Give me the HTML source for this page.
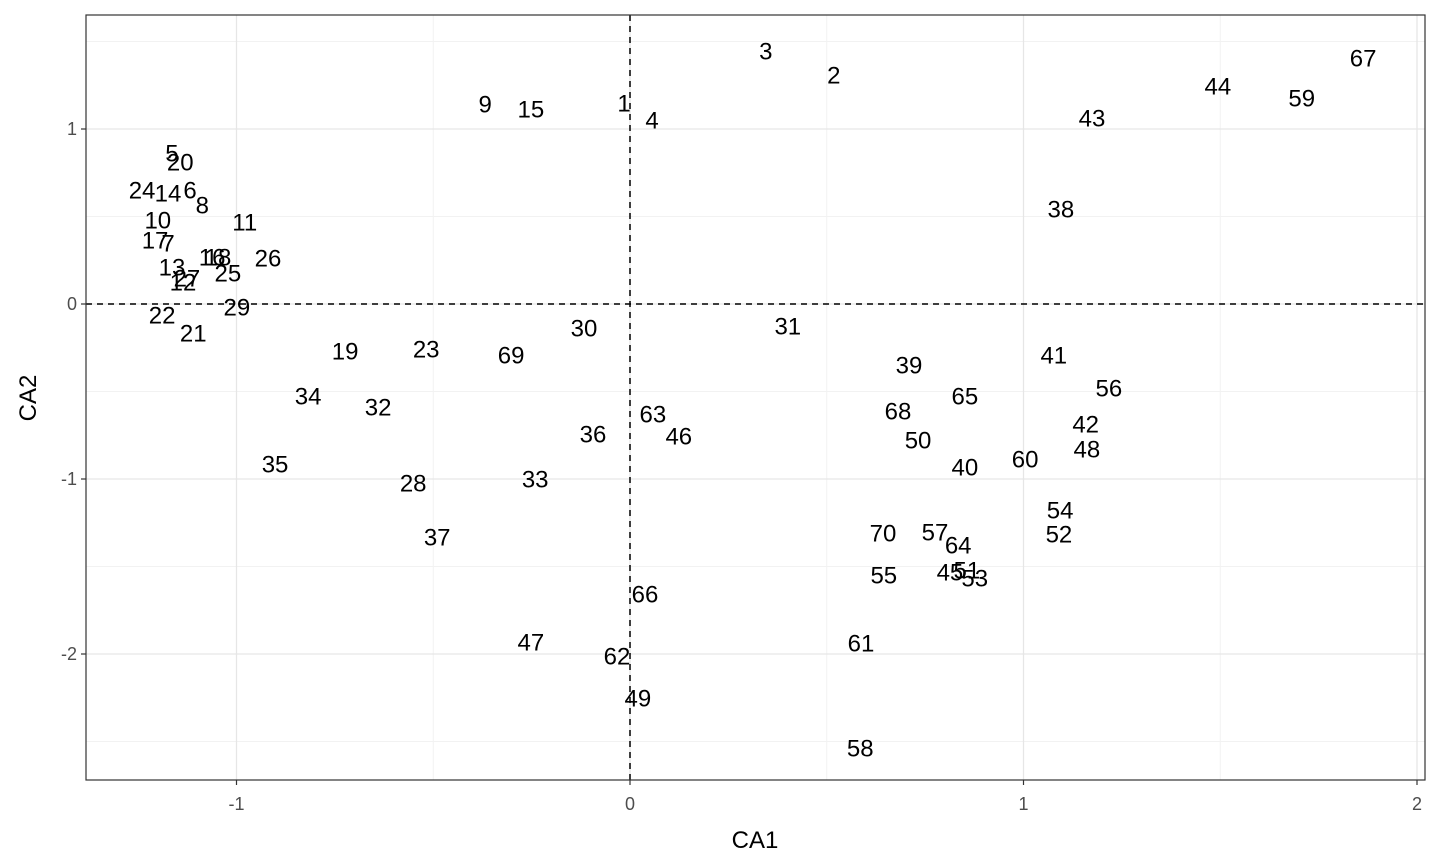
<!DOCTYPE html>
<html><head><meta charset="utf-8"><style>
body{margin:0;background:#fff;}
svg{display:block;font-family:"Liberation Sans",Arial,sans-serif;}
</style></head><body>
<svg id="chart" width="1440" height="864" xmlns="http://www.w3.org/2000/svg">
<g id="grid"></g>
<g id="refs"></g>
<g id="pts"></g>
<rect x="86" y="15" width="1339" height="765" fill="none" stroke="#333" stroke-width="1.2"/>
<g id="axes"></g>
<text x="755" y="848" font-size="24" text-anchor="middle">CA1</text>
<text transform="translate(36,398) rotate(-90)" font-size="24" text-anchor="middle">CA2</text>
</svg>
<script>
const labels = [1,2,3,4,5,6,7,8,9,10,11,12,13,14,15,16,17,18,19,20,21,22,23,24,25,26,27,28,29,30,31,32,33,34,35,36,37,38,39,40,41,42,43,44,45,46,47,48,49,50,51,52,53,54,55,56,57,58,59,60,61,62,63,64,65,66,67,68,69,70];
const ca1 = [-0.015,0.518,0.345,0.056,-1.164,-1.118,-1.174,-1.087,-0.368,-1.200,-0.979,-1.136,-1.164,-1.174,-0.252,-1.062,-1.207,-1.047,-0.724,-1.143,-1.110,-1.189,-0.518,-1.240,-1.022,-0.920,-1.126,-0.551,-0.999,-0.117,0.401,-0.640,-0.241,-0.818,-0.902,-0.094,-0.490,1.095,0.709,0.851,1.077,1.158,1.174,1.494,0.813,0.124,-0.252,1.161,0.020,0.732,0.856,1.090,0.876,1.093,0.645,1.217,0.775,0.585,1.707,1.004,0.587,-0.033,0.058,0.834,0.851,0.038,1.863,0.681,-0.302,0.643];
const ca2 = [1.149,1.309,1.446,1.051,0.863,0.651,0.349,0.566,1.143,0.480,0.469,0.126,0.211,0.634,1.114,0.269,0.366,0.269,-0.269,0.811,-0.166,-0.063,-0.257,0.651,0.177,0.263,0.149,-1.023,-0.017,-0.137,-0.126,-0.589,-1.000,-0.526,-0.914,-0.743,-1.331,0.543,-0.349,-0.931,-0.291,-0.686,1.063,1.246,-1.531,-0.754,-1.931,-0.829,-2.251,-0.777,-1.520,-1.314,-1.566,-1.177,-1.549,-0.480,-1.303,-2.537,1.177,-0.886,-1.937,-2.011,-0.629,-1.377,-0.526,-1.657,1.406,-0.611,-0.291,-1.309];
const xTicks = [-1,0,1,2];
const yTicks = [1,0,-1,-2];
const xMinor = [-0.5,0.5,1.5];
const yMinor = [1.5,0.5,-0.5,-1.5,-2.5];

const X0=86,X1=1425,Y0=15,Y1=780;
const sx=v=>630+v*393.5;
const sy=v=>304-v*175;
const NS="http://www.w3.org/2000/svg";
function mk(tag,attrs,parent){const e=document.createElementNS(NS,tag);for(const k in attrs)e.setAttribute(k,attrs[k]);parent.appendChild(e);return e;}
const grid=document.getElementById('grid'),refs=document.getElementById('refs'),pts=document.getElementById('pts'),axes=document.getElementById('axes');
xMinor.forEach(v=>{const l=mk('line',{x1:sx(v),x2:sx(v),y1:Y0,y2:Y1,stroke:'#f2f2f2','stroke-width':1},grid);

});
yMinor.forEach(v=>{const l=mk('line',{x1:X0,x2:X1,y1:sy(v),y2:sy(v),stroke:'#f2f2f2','stroke-width':1},grid);

});
xTicks.forEach(v=>{const l=mk('line',{x1:sx(v),x2:sx(v),y1:Y0,y2:Y1,stroke:'#e6e6e6','stroke-width':1.3},grid);


const t=mk('line',{x1:sx(v),x2:sx(v),y1:Y1,y2:Y1+5,stroke:'#333','stroke-width':1.2},axes);


const s=mk('text',{x:sx(v),y:Y1+30,'font-size':18,fill:'#4d4d4d','text-anchor':'middle'},axes);s.textContent=v;

});
yTicks.forEach(v=>{const l=mk('line',{x1:X0,x2:X1,y1:sy(v),y2:sy(v),stroke:'#e6e6e6','stroke-width':1.3},grid);


const t=mk('line',{x1:X0-5,x2:X0,y1:sy(v),y2:sy(v),stroke:'#333','stroke-width':1.2},axes);


const s=mk('text',{x:X0-9,y:sy(v)+6,'font-size':18,fill:'#4d4d4d','text-anchor':'end'},axes);s.textContent=v;

});
const h=mk('line',{x1:X0,x2:X1,y1:sy(0),y2:sy(0),stroke:'#000','stroke-width':1.5,'stroke-dasharray':'6,5'},refs);


const vl=mk('line',{x1:sx(0),x2:sx(0),y1:Y0,y2:Y1,stroke:'#000','stroke-width':1.5,'stroke-dasharray':'6,5'},refs);


labels.forEach((lab,i)=>{const t=mk('text',{x:sx(ca1[i]),y:sy(ca2[i])+8.5,'font-size':24,'text-anchor':'middle',fill:'#000'},pts);t.textContent=lab;

});
</script>
</body></html>
